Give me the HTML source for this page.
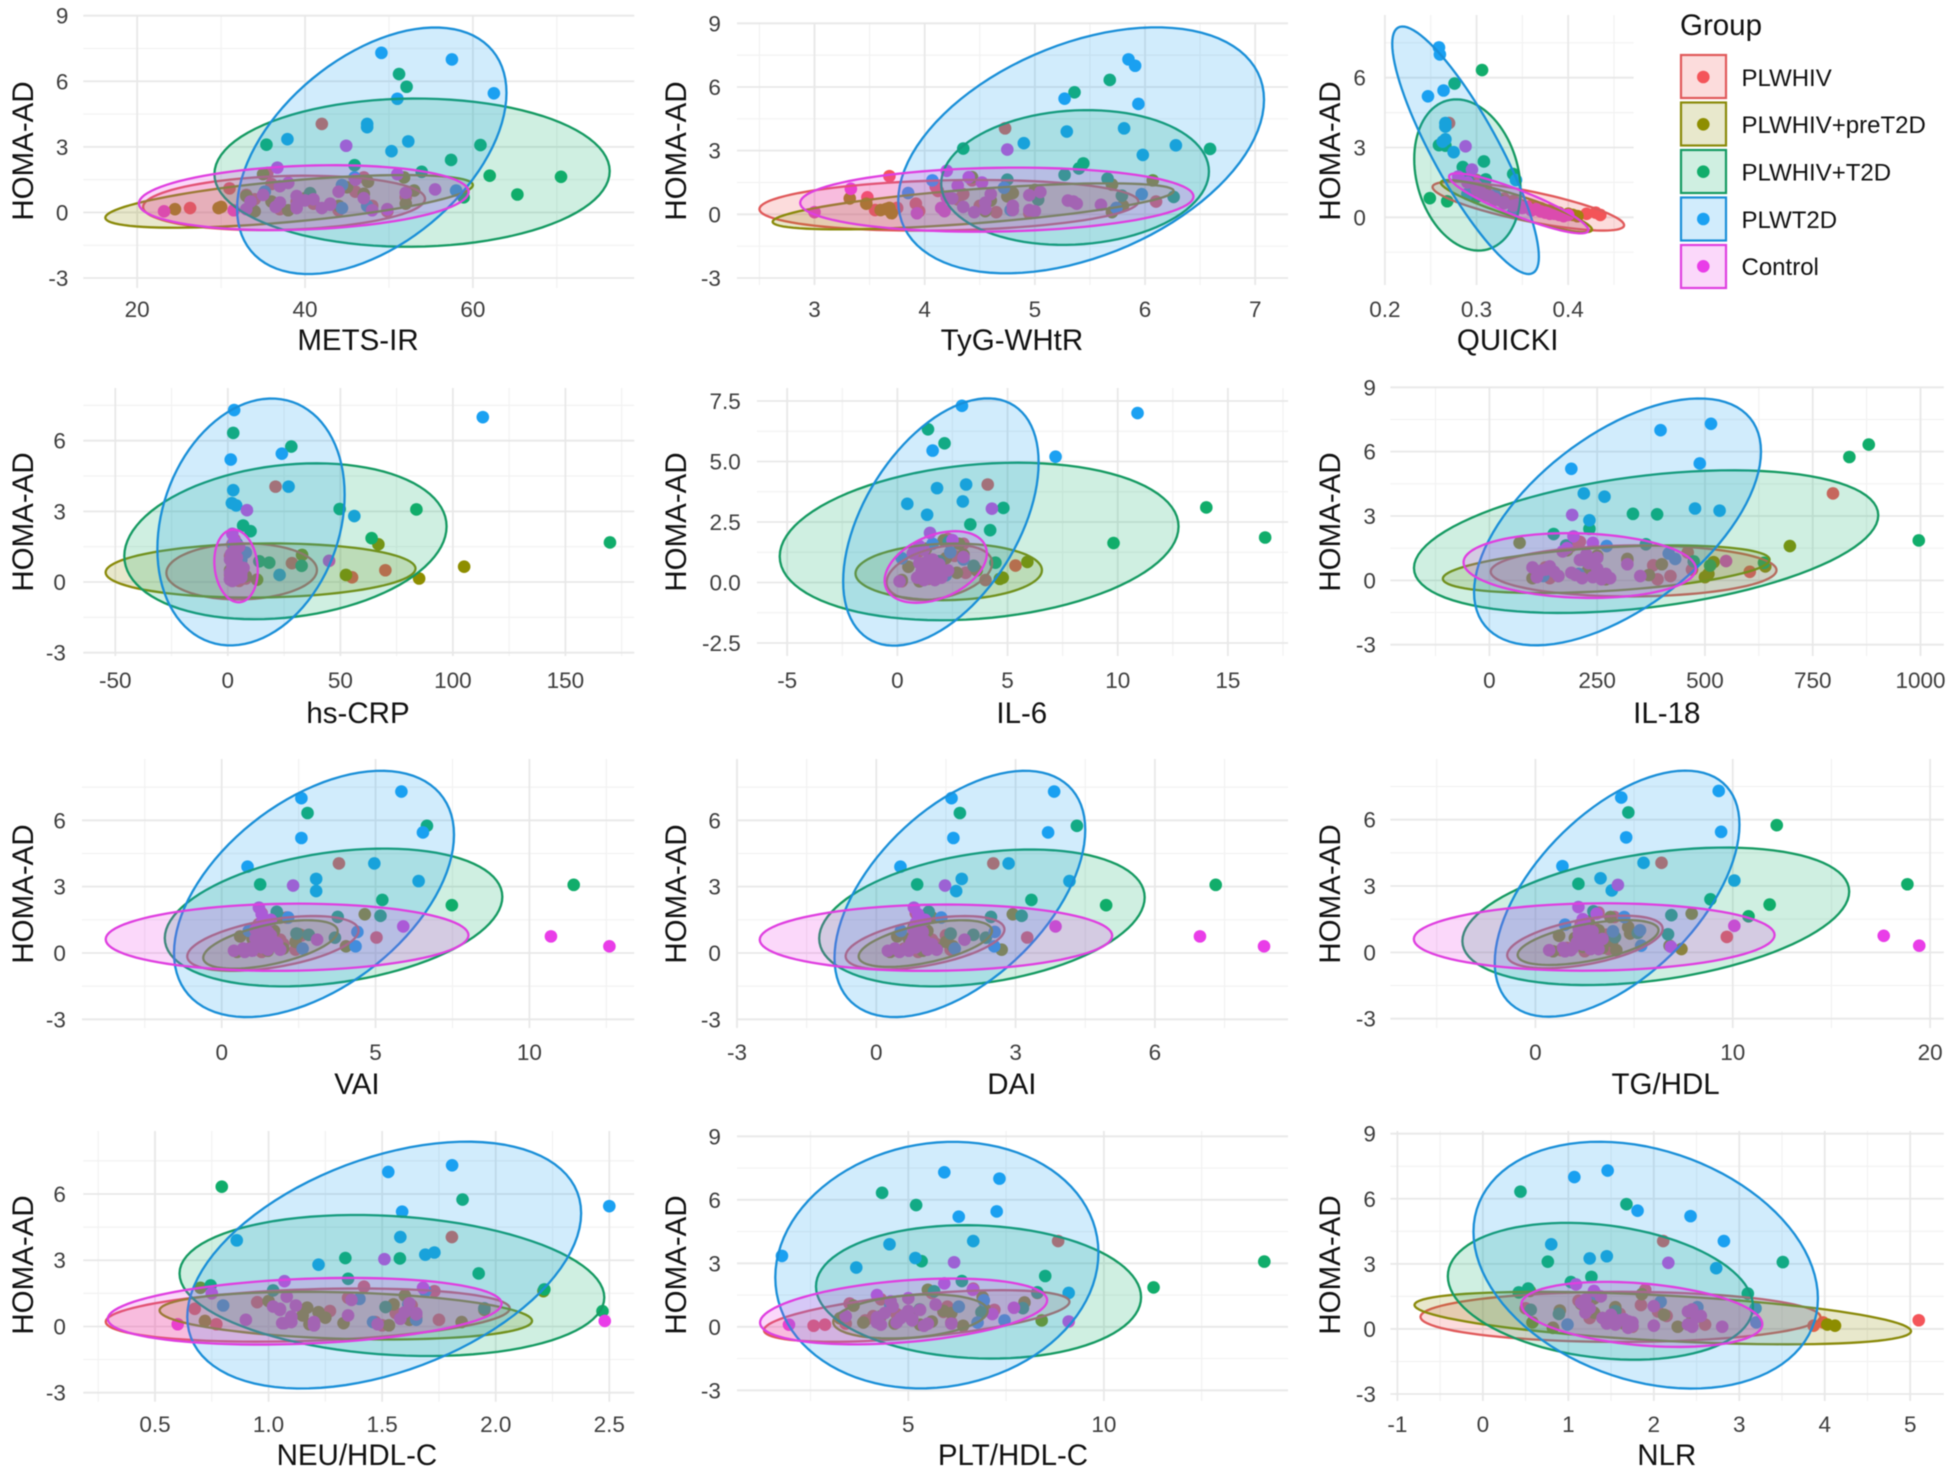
<!DOCTYPE html>
<html lang="en">
<head>
<meta charset="utf-8">
<title>HOMA-AD scatter panels</title>
<style>
html,body{margin:0;padding:0;background:#fff;width:1949px;height:1470px;overflow:hidden}
svg{display:block;font-family:"Liberation Sans",Arial,sans-serif;filter:blur(.5px)}
</style>
</head>
<body>
<svg id="chart" xmlns="http://www.w3.org/2000/svg" width="1949" height="1470" viewBox="0 0 1949 1470">
  <rect x="0" y="0" width="1949" height="1470" fill="#ffffff"/>
  <g id="panels"></g>
  <g id="legend">
    <text x="1680" y="35" font-size="29.5" fill="#111">Group</text>
    <g>
      <rect x="1681" y="55" width="45" height="43" fill="#F0504F" fill-opacity=".2" stroke="#E0595A" stroke-width="2.2"/>
      <circle cx="1703.3" cy="77" r="6.3" fill="#F4555A"/>
      <text x="1741.5" y="86" font-size="24" fill="#111">PLWHIV</text>
    </g>
    <g>
      <rect x="1681" y="102.5" width="45" height="43" fill="#8E8E00" fill-opacity=".2" stroke="#8A8A0A" stroke-width="2.2"/>
      <circle cx="1703.3" cy="124.3" r="6.3" fill="#8E8E00"/>
      <text x="1741.5" y="133" font-size="24" fill="#111">PLWHIV+preT2D</text>
    </g>
    <g>
      <rect x="1681" y="150" width="45" height="43" fill="#11AD6B" fill-opacity=".2" stroke="#159A62" stroke-width="2.2"/>
      <circle cx="1703.3" cy="171.7" r="6.3" fill="#11AD6B"/>
      <text x="1741.5" y="180.5" font-size="24" fill="#111">PLWHIV+T2D</text>
    </g>
    <g>
      <rect x="1681" y="197.5" width="45" height="43" fill="#1BA1F2" fill-opacity=".2" stroke="#1A8FD8" stroke-width="2.2"/>
      <circle cx="1703.3" cy="219" r="6.3" fill="#1BA1F2"/>
      <text x="1741.5" y="228" font-size="24" fill="#111">PLWT2D</text>
    </g>
    <g>
      <rect x="1681" y="245" width="45" height="43" fill="#E93DE8" fill-opacity=".2" stroke="#DF3FE0" stroke-width="2.2"/>
      <circle cx="1703.3" cy="266.3" r="6.3" fill="#E93DE8"/>
      <text x="1741.5" y="275" font-size="24" fill="#111">Control</text>
    </g>
  </g>
</svg>
<script>
// ---------- shared HOMA-AD values per group ----------
const groupNames = ['plwhiv','plwhiv-pret2d','plwhiv-t2d','plwt2d','control'];
const homaPlwhiv = [4.05,1.8,1.6,1.3,1.1,.95,.8,.7,.6,.5,.4,.3,.2,.15,.1,.05];
const homaPreT2D = [1.75,1.6,1.4,1.15,1.0,.85,.75,.65,.5,.4,.3,.25,.2,.15,.1,.05];
const homaT2D = [6.33,5.75,3.1,3.08,2.4,2.16,1.86,1.68,1.63,.82,.69,.88];
const homaPlwT2D = [7.3,7.0,5.45,5.2,4.05,3.9,3.35,3.25,2.8,1.6,1.25,1.0,.95,.3,.2];
const homaControl = [3.05,2.05,1.75,1.5,1.2,1.05,.9,.75,.6,.5,.4,.3,.25,.2,.15,.1,.05,1.35,.95,.8,.65,.55,.45,.35,.2,.15,.1];

// ---------- x values per panel, one row per group ----------
const xMets = [
 [42,35.5,47,36,31,46,33,52,34,39,41,48,26.3,37,44,49.8],
 [35,51.8,47.5,45,53,47,33,40,36,52,44,30,29.7,24.5,38,34],
 [51.2,52.1,35.4,60.9,57.4,45.9,53.9,62,70.5,65.3,58.9,40.6],
 [49.1,57.5,62.5,51,47.4,47.4,37.9,52.3,50.3,45.9,44.4,58,35.2,47.4,44.4],
 [44.9,36.7,51,46,37,55.5,52,39,41,33.5,43,39,36.5,42,49.8,31.5,23.2,38,44,35,47,40,37,43,39,33,48]];
const xTyg = [
 [4.73,3.68,4.43,4.1,4.12,4.35,3.48,4.3,6.1,3.92,4.5,3.75,3.55,3.95,4.65,4.95],
 [4.43,6.07,5.7,5.0,4.8,4.75,3.32,4.6,3.47,5.8,3.68,3.65,3.6,4.55,5.7,3.7],
 [5.68,5.36,4.35,6.59,5.44,5.4,5.27,5.66,4.75,6.26,5.03,5.79],
 [5.85,5.91,5.27,5.94,5.81,5.29,4.9,6.28,5.98,4.07,4.72,3.85,5.97,5.74,4.78],
 [4.75,4.2,4.4,4.52,3.33,5.05,4.95,4.25,5.35,5.38,4.8,4.15,4.55,4.95,4.18,3.0,3.93,4.3,4.6,4.2,5.3,4.55,5.6,4.35,4.8,5.0,4.45]];
const xQuicki = [
 [.27,.288,.3,.31,.305,.32,.33,.34,.345,.36,.37,.38,.43,.42,.435,.41],
 [.285,.29,.295,.3,.31,.32,.325,.33,.35,.36,.37,.38,.39,.40,.405,.41],
 [.306,.276,.259,.266,.308,.285,.34,.29,.31,.249,.268,.3],
 [.259,.26,.264,.247,.266,.266,.266,.263,.275,.343,.30,.29,.32,.36,.34],
 [.288,.295,.28,.29,.3,.305,.315,.32,.33,.34,.35,.36,.37,.375,.38,.39,.395,.3,.31,.32,.33,.345,.355,.365,.38,.385,.4]];
const xCrp = [
 [21.2,3,2,5,1,4,28.5,2,6,70,3,1,55.2,8,2,5],
 [3,66.9,5,33,2,4,6,105,1,3,52.5,8,4,85,13,2],
 [2.4,28.2,49.7,83.8,6.8,10.1,63.9,169.8,4,18.4,32.8,14],
 [2.8,113.3,24,1.3,27,2.4,1.8,3.7,56.2,2.5,8,2,6,23,3],
 [8.5,2,3,5,1.5,4,45,2,7,3,1,4,2,6,1,3,2,3,1,4,2,5,3,6,2,4,1]];
const xIl6 = [
 [4.1,2.3,3,1,2.6,1.5,1.2,5.36,2,1.7,3.1,2,.9,1.4,4,.2],
 [2.1,2.8,1.3,3,2.2,5.9,1.6,.5,3.6,2.7,1.2,1.9,4.78,4.65,.2,1],
 [1.39,2.14,14.02,4.81,3.31,4.21,16.69,2.33,9.81,4.45,3.46,1.9],
 [2.93,10.9,1.6,7.18,3.12,1.8,2.97,.45,1.35,1.6,2.4,.2,3.0,2.2,1.5],
 [4.29,1.48,2.5,1,.7,3,1.4,1.9,1.6,2.3,1.1,1.5,1.3,2,1.7,1.2,.1,1.2,1.6,1.0,1.4,1.8,1.1,1.5,.9,1.3,1.7]];
const xIl18 = [
 [797,210,190,460,250,320,240,380,130,470,604,220,420,270,140,390],
 [70,697,180,250,320,520,400,640,230,130,508,370,160,500,100,270],
 [880,835,333,389,232,149,996,363,178,637,512,474],
 [514,397,488,190,219,267,477,534,232,272,416,431,216,207,125],
 [192,195,240,180,225,250,549,320,100,130,150,270,200,350,110,280,260,170,210,230,140,250,120,190,160,240,215]];
const xVai = [
 [3.81,1.3,2.1,1.2,1.5,1.4,2.6,5.03,1.9,1.1,2.0,1.6,.9,2.4,.7,1.3],
 [4.65,1.9,1.4,1.1,1.7,2.5,.6,1.0,2.4,1.6,4.04,1.2,2.0,.8,1.5,.5],
 [2.79,6.67,1.25,11.44,5.22,7.48,1.79,5.16,3.77,2.83,3.68,2.43],
 [5.84,2.59,6.54,2.59,4.96,.84,3.07,6.4,3.07,2.16,1.4,.88,4.41,4.35,2.63],
 [2.32,1.21,1.3,1.6,5.9,1.1,1.4,10.7,3.1,1.5,1.7,12.6,1.3,.95,1.9,.4,.75,1.3,1.5,1.6,1.1,1.4,1.8,1.2,.7,1.5,1.0]];
const xDai = [
 [2.52,.85,1.2,.9,1.05,1.0,1.5,3.25,1.2,.8,1.3,.95,.6,1.6,.45,.9],
 [2.94,1.2,.9,.8,1.1,1.6,.45,.7,1.5,1.0,1.65,.75,1.3,2.7,1.0,.3],
 [1.8,4.32,.88,7.31,3.34,4.95,1.13,3.13,2.47,2.09,2.36,1.6],
 [3.83,1.62,3.7,1.66,2.85,.52,1.84,4.16,1.72,1.4,.93,.53,2.55,2.54,1.69],
 [1.48,.81,.9,1.05,3.86,.8,.95,6.97,1.9,1.0,1.2,8.35,.85,.65,1.3,.25,.5,.85,1,.95,.8,1.05,.75,.9,.4,1.1,.7]];
const xTgHdl = [
 [6.39,3.2,4.0,2.3,3,2.6,3.6,9.7,2.9,2.2,3.1,2.6,1.6,3.7,1.3,2.5],
 [7.92,3.8,2.7,4.7,3.2,4.8,1.2,2,3.9,3,6.8,2.4,3.4,7.4,4.1,.9],
 [4.71,12.23,2.18,18.85,8.87,11.87,2.94,6.89,10.8,6.72,4.03,5.19],
 [9.29,4.35,9.41,4.6,5.48,1.37,3.3,10.08,3.87,4.5,1.5,5.3,3.93,5.36,2.77],
 [4.18,2.18,3.1,2.4,10.08,2.2,2.6,17.65,3.4,2.9,2.3,19.45,6.87,1.9,3.2,.7,1.5,2.5,2.9,2.2,2.6,3.1,2.1,2.4,1.4,2.8,1.8]];
const xNeuHdl = [
 [1.807,1.42,1.73,1.35,.95,1.63,.675,1.27,1.56,1.15,1.65,1.75,1.47,1.2,.77,1.5],
 [.7,2.21,1.6,1.0,1.55,1.17,1.95,1.22,1.15,1.25,1.62,.72,1.85,1.33,1.18,1.53],
 [.794,1.854,1.338,1.578,1.925,1.35,.745,2.214,1.02,1.95,2.47,1.515],
 [1.808,1.527,2.5,1.588,1.58,.86,1.73,1.69,1.22,1.69,1.4,1.615,.8,1.65,1.46],
 [1.51,1.07,1.68,.75,1.365,1.62,1.02,1.05,1.65,1.35,1.1,.9,2.48,1.1,1.07,.6,1.2,1.08,1.12,1.05,1.6,1.65,1.1,1.58,1.2,1.06,1.48]];
const xPltHdl = [
 [8.83,6.66,5.6,4.3,3.5,6,7.2,5.9,4.7,4.1,5.1,3.9,6.1,3.4,2.87,2.58],
 [5.5,8.3,6.9,7.97,3.6,6.95,5.9,6.1,4.3,3.25,8.41,5.6,3.85,4.65,5.3,6.4],
 [4.33,5.2,5.34,14.1,8.5,6.37,11.27,5.66,8.3,5.29,6.87,7.93],
 [5.92,7.33,7.26,6.29,6.66,4.52,1.77,5.18,3.67,9.1,6.93,4.54,6.29,7.46,6.77],
 [6.17,5.92,6.65,4.2,4.55,5.7,7.7,5,7.15,3.4,4.8,5.1,9.1,4.2,6.1,1.95,5.4,5,4.6,5.3,4.4,4.9,4.2,5.1,4.7,5.5,4.3]];
const xNlr = [
 [2.11,1.9,1.3,1.12,1.85,.5,2.05,1.6,2.15,1.25,5.1,3.98,2.6,3.87,1.75,.82],
 [.55,1.86,1.3,1.15,1.55,.9,1.3,2.12,1.4,2.45,.58,1.65,4.03,4.12,2.28,.82],
 [.44,1.68,.76,3.51,1.27,1.03,.53,.42,3.1,1.55,.89,.56],
 [1.46,1.07,1.81,2.43,2.82,.8,1.45,1.25,2.73,1.32,2.08,2.51,3.19,3.2,.99],
 [2.17,1.09,1.3,1.38,1.15,2,2.45,1.2,2.55,1.4,1.6,1.75,1.45,2.4,2.0,2.8,1.7,1.2,1.25,2.4,1.5,2.5,1.65,1.7,1.55,1.75,2.45]];

// ---------- confidence ellipses: [xLow, xHigh, yLow, yHigh, correlation], one row per group ----------
const ellMets = [[20.7,54.3,-.81,1.68,.15],[16.2,60,-.7,1.71,.62],[29.2,76.3,-1.57,5.21,.02],[31.9,64,-2.82,8.46,.47],[20.2,59.5,-.81,2.16,.18]];
const ellTyg = [[2.5,5.94,-.77,1.62,.15],[2.62,6.26,-.71,1.46,.67],[4.15,6.58,-1.44,4.91,.09],[3.76,7.08,-2.78,8.81,.41],[2.87,6.44,-.82,2.2,.1]];
const ellQuicki = [[.252,.461,-.57,1.53,-.78],[.261,.426,-.64,1.6,-.9],[.232,.348,-1.43,5.07,-.21],[.208,.368,-2.44,8.2,-.86],[.27,.422,-.69,1.89,-.89]];
const ellCrp = [[-27.3,39.6,-.74,1.64,.05],[-54.3,83.4,-.66,1.64,.07],[-46,97.2,-1.58,5.04,.19],[-31.3,51.9,-2.69,7.79,.22],[-6,13.3,-.86,2.23,-.12]];
const ellIl6 = [[-.49,4.3,-.73,1.54,.35],[-1.9,6.56,-.73,1.61,.06],[-5.34,12.76,-1.56,4.95,.19],[-2.46,6.41,-2.61,7.61,.48],[-.58,4.06,-.84,2.12,.38]];
const ellIl18 = [[3,666,-.75,1.63,.03],[-108,650,-.59,1.63,.4],[-175,902,-1.52,5.13,.37],[-35.6,630,-3.03,8.48,.57],[-60,479,-.82,2.2,-.1]];
const ellVai = [[-1.12,4.45,-.81,1.67,.47],[-.6,3.77,-.71,1.48,.55],[-1.85,9.12,-1.51,4.72,.3],[-1.55,7.55,-2.9,8.24,.48],[-3.77,8.02,-.81,2.23,.06]];
const ellDai = [[-.66,2.76,-.75,1.67,.5],[-.38,2.49,-.63,1.48,.55],[-1.23,5.78,-1.51,4.68,.3],[-.9,4.5,-2.9,8.24,.52],[-2.51,5.08,-.81,2.19,.06]];
const ellTgHdl = [[-1.43,6.45,-.72,1.66,.5],[-.9,6.24,-.57,1.46,.55],[-3.7,15.9,-1.48,4.74,.36],[-2.06,10.34,-2.91,8.22,.56],[-6.16,12.12,-.83,2.22,.06]];
const ellNeuHdl = [[.283,2.062,-.69,1.72,.25],[.52,2.16,-.59,1.57,-.22],[.608,2.478,-1.34,5.05,-.17],[.642,2.376,-2.81,8.37,.42],[.292,2.026,-.82,2.2,.23]];
const ellPltHdl = [[1.31,9.12,-.71,1.73,.55],[3.08,7.03,-.55,1.53,.25],[2.64,10.95,-1.5,4.8,-.08],[1.6,9.86,-2.91,8.74,.1],[1.21,8.55,-.83,2.28,.34]];
const ellNlr = [[-.73,3.95,-.6,1.71,0],[-.8,5.01,-.71,1.71,-.5],[-.41,3.16,-1.42,4.89,-.22],[-.11,3.92,-2.75,8.63,-.27],[.45,3.27,-.83,2.17,-.3]];

// ---------- tick values per panel ----------
const xTicksMets = [20,40,60];
const xTicksTyg = [3,4,5,6,7];
const xTicksQuicki = [.2,.3,.4];
const xTicksCrp = [-50,0,50,100,150];
const xTicksIl6 = [-5,0,5,10,15];
const xTicksIl18 = [0,250,500,750,1000];
const xTicksVai = [0,5,10];
const xTicksDai = [-3,0,3,6];
const xTicksTg = [0,10,20];
const xTicksNeu = [.5,1,1.5,2,2.5];
const xTicksPlt = [5,10];
const xTicksNlr = [-1,0,1,2,3,4,5];
const xLabelsQuicki = ['0.2','0.3','0.4'];
const xLabelsNeu = ['0.5','1.0','1.5','2.0','2.5'];
const yTicksFull = [-3,0,3,6,9];
const yTicksQuicki = [0,3,6];
const yTicksNoNine = [-3,0,3,6];
const yTicksIl6 = [-2.5,0,2.5,5,7.5];
const yLabelsIl6 = ['-2.5','0.0','2.5','5.0','7.5'];

// ---------- layout (pixels) ----------
const panelSpecs = [
 {id:'mets-ir',title:'METS-IR',xs:xMets,ell:ellMets,xt:xTicksMets,yt:yTicksFull,box:[83.3,15,634.2,288],xa:[20,137.2,60,472.9],ya:[9,15.7,-3,278],tickRight:68.4,tickBase:317,titleX:358,titleBase:350,yTitleX:33,yTitleY:151},
 {id:'tyg-whtr',title:'TyG-WHtR',xs:xTyg,ell:ellTyg,xt:xTicksTyg,yt:yTicksFull,box:[737,23,1288,285],xa:[3,814.5,7,1255.2],ya:[9,23.3,-3,278],tickRight:720.9,tickBase:317,titleX:1011.9,titleBase:350,yTitleX:686,yTitleY:151},
 {id:'quicki',title:'QUICKI',xs:xQuicki,ell:ellQuicki,xt:xTicksQuicki,xl:xLabelsQuicki,yt:yTicksQuicki,box:[1384.9,15,1633.6,285],xa:[.2,1384.9,.4,1568.2],ya:[6,77.7,0,217.3],tickRight:1365.9,tickBase:317,titleX:1507.7,titleBase:350,yTitleX:1340,yTitleY:151},
 {id:'hs-crp',title:'hs-CRP',xs:xCrp,ell:ellCrp,xt:xTicksCrp,yt:yTicksNoNine,box:[83.3,388,634.2,656],xa:[-50,115.3,150,565.4],ya:[6,440.7,-3,652.7],tickRight:65.9,tickBase:688,titleX:358,titleBase:723,yTitleX:33,yTitleY:522},
 {id:'il-6',title:'IL-6',xs:xIl6,ell:ellIl6,xt:xTicksIl6,yt:yTicksIl6,yl:yLabelsIl6,box:[757,388,1288,656],xa:[-5,787.2,15,1227.9],ya:[7.5,401,-2.5,643],tickRight:740.8,tickBase:688,titleX:1021.8,titleBase:723,yTitleX:686,yTitleY:522},
 {id:'il-18',title:'IL-18',xs:xIl18,ell:ellIl18,xt:xTicksIl18,yt:yTicksFull,box:[1390.4,387,1943.8,656],xa:[0,1489.4,1000,1920.5],ya:[9,387.3,-3,644.7],tickRight:1375.9,tickBase:688,titleX:1666.8,titleBase:723,yTitleX:1340,yTitleY:522},
 {id:'vai',title:'VAI',xs:xVai,ell:ellVai,xt:xTicksVai,yt:yTicksNoNine,box:[82,759,634.2,1028],xa:[0,221.7,10,529.4],ya:[6,820.3,-3,1019.3],tickRight:65.9,tickBase:1060,titleX:356.9,titleBase:1094,yTitleX:33,yTitleY:894},
 {id:'dai',title:'DAI',xs:xDai,ell:ellDai,xt:xTicksDai,yt:yTicksNoNine,box:[737,759,1288,1028],xa:[-3,737,6,1154.9],ya:[6,820.3,-3,1019.3],tickRight:720.9,tickBase:1060,titleX:1011.9,titleBase:1094,yTitleX:686,yTitleY:894},
 {id:'tg-hdl',title:'TG/HDL',xs:xTgHdl,ell:ellTgHdl,xt:xTicksTg,yt:yTicksNoNine,box:[1390.4,759,1943.8,1028],xa:[0,1535.4,20,1930.1],ya:[6,819.7,-3,1018.7],tickRight:1375.9,tickBase:1060,titleX:1665.6,titleBase:1094,yTitleX:1340,yTitleY:894},
 {id:'neu-hdl-c',title:'NEU/HDL-C',xs:xNeuHdl,ell:ellNeuHdl,xt:xTicksNeu,xl:xLabelsNeu,yt:yTicksNoNine,box:[83.3,1131,634.2,1401.7],xa:[.5,155,2.5,609.3],ya:[6,1194,-3,1392.7],tickRight:65.9,tickBase:1432,titleX:356.9,titleBase:1465,yTitleX:33,yTitleY:1265},
 {id:'plt-hdl-c',title:'PLT/HDL-C',xs:xPltHdl,ell:ellPltHdl,xt:xTicksPlt,yt:yTicksFull,box:[737,1131,1288,1401],xa:[5,908.3,10,1103.9],ya:[9,1136.3,-3,1390.3],tickRight:720.9,tickBase:1432,titleX:1013,titleBase:1465,yTitleX:686,yTitleY:1265},
 {id:'nlr',title:'NLR',xs:xNlr,ell:ellNlr,xt:xTicksNlr,yt:yTicksFull,box:[1390.4,1131,1943.8,1401],xa:[-1,1397.4,5,1910.2],ya:[9,1133.7,-3,1394],tickRight:1375.9,tickBase:1432,titleX:1666.8,titleBase:1465,yTitleX:1340,yTitleY:1265}
];
const homaByGroup = [homaPlwhiv,homaPreT2D,homaT2D,homaPlwT2D,homaControl];
const pointColors = ['#F4555A','#8E8E00','#11AD6B','#1BA1F2','#E93DE8'];
const fillColors = ['#F0504F','#8E8E00','#11AD6B','#1BA1F2','#E93DE8'];
const strokeColors = ['#E0595A','#8A8A0A','#159A62','#1A8FD8','#DF3FE0'];
const NS = 'http://www.w3.org/2000/svg';
const root = document.getElementById('panels');

function svgEl(tag, attrs, parent){
  const el = document.createElementNS(NS, tag);
  for (const k in attrs) el.setAttribute(k, attrs[k]);
  parent.appendChild(el);
  return el;
}
function linearScale(v0, p0, v1, p1){
  const k = (p1 - p0) / (v1 - v0);
  return v => p0 + (v - v0) * k;
}
function minorValues(ticks, lo, hi){
  const step = ticks.length > 1 ? ticks[1] - ticks[0] : 1;
  const out = [];
  for (let v = ticks[0] - step / 2; v >= lo; v -= step) out.push(v);
  ticks.forEach(t => { if (t + step / 2 <= hi) out.push(t + step / 2); });
  for (let v = ticks[0] - step; v >= lo; v -= step) out.push(v);
  for (let v = ticks[ticks.length - 1] + step; v <= hi; v += step) out.push(v);
  return out;
}
function ellipsePath(e, sx, sy){
  const xc = (e[0] + e[1]) / 2, hx = (e[1] - e[0]) / 2;
  const yc = (e[2] + e[3]) / 2, hy = (e[3] - e[2]) / 2;
  const d = Math.acos(e[4]);
  let path = '';
  for (let i = 0; i < 96; i++){
    const t = i / 96 * 2 * Math.PI;
    const px = sx(xc + hx * Math.cos(t));
    const py = sy(yc + hy * Math.cos(t - d));
    path += (i ? 'L' : 'M') + px.toFixed(2) + ' ' + py.toFixed(2);
  }
  return path + 'Z';
}
function drawGridLine(g, x1, y1, x2, y2, major){
  const line = svgEl('line', {x1, y1, x2, y2, stroke: major ? '#E8E8E8' : '#F2F2F2', 'stroke-width': major ? 1.8 : 1.2}, g);
  
  
}
function drawPanel(p){
  const g = svgEl('g', {}, root);
  
  
  const [l, t, r, b] = p.box;
  const sx = linearScale(p.xa[0], p.xa[1], p.xa[2], p.xa[3]);
  const sy = linearScale(p.ya[0], p.ya[1], p.ya[2], p.ya[3]);
  const kx = (p.xa[2] - p.xa[0]) / (p.xa[3] - p.xa[1]);
  const ky = (p.ya[2] - p.ya[0]) / (p.ya[3] - p.ya[1]);
  const xLo = p.xa[0] + (l - 0.5 - p.xa[1]) * kx, xHi = p.xa[0] + (r + 0.5 - p.xa[1]) * kx;
  const yHi = p.ya[0] + (t - 0.5 - p.ya[1]) * ky, yLo = p.ya[0] + (b + 0.5 - p.ya[1]) * ky;
  minorValues(p.xt, xLo, xHi).forEach(v => drawGridLine(g, sx(v), t, sx(v), b, false));
  minorValues(p.yt, yLo, yHi).forEach(v => drawGridLine(g, l, sy(v), r, sy(v), false));
  p.xt.forEach(v => drawGridLine(g, sx(v), t, sx(v), b, true));
  p.yt.forEach(v => drawGridLine(g, l, sy(v), r, sy(v), true));

  p.xs.forEach((xRow, gi) => {
    const ys = homaByGroup[gi];
    xRow.forEach((xv, i) => {
      const dot = svgEl('circle', {cx: sx(xv).toFixed(2), cy: sy(ys[i]).toFixed(2), r: 6.3, fill: pointColors[gi]}, g);
      
      
    });
  });
  p.ell.forEach((e, gi) => {
    const shape = svgEl('path', {d: ellipsePath(e, sx, sy), fill: fillColors[gi], 'fill-opacity': .2, stroke: strokeColors[gi], 'stroke-width': 2.3}, g);
    
    
  });

  p.xt.forEach((v, i) => {
    const label = svgEl('text', {x: sx(v).toFixed(2), y: p.tickBase, 'font-size': 22.5, fill: '#3d3d3d', 'text-anchor': 'middle'}, g);
    label.textContent = p.xl ? p.xl[i] : String(v);
    
    
  });
  p.yt.forEach((v, i) => {
    const label = svgEl('text', {x: p.tickRight, y: (sy(v) + 8).toFixed(2), 'font-size': 22.5, fill: '#3d3d3d', 'text-anchor': 'end'}, g);
    label.textContent = p.yl ? p.yl[i] : String(v);
    
    
  });
  const xTitle = svgEl('text', {x: p.titleX, y: p.titleBase, 'font-size': 29.5, fill: '#111', 'text-anchor': 'middle'}, g);
  xTitle.textContent = p.title;
  
  
  const yTitle = svgEl('text', {transform: 'translate(' + p.yTitleX + ',' + p.yTitleY + ') rotate(-90)', 'font-size': 29.5, fill: '#111', 'text-anchor': 'middle'}, g);
  yTitle.textContent = 'HOMA-AD';
  
  
}
panelSpecs.forEach(drawPanel);
</script>
</body>
</html>
